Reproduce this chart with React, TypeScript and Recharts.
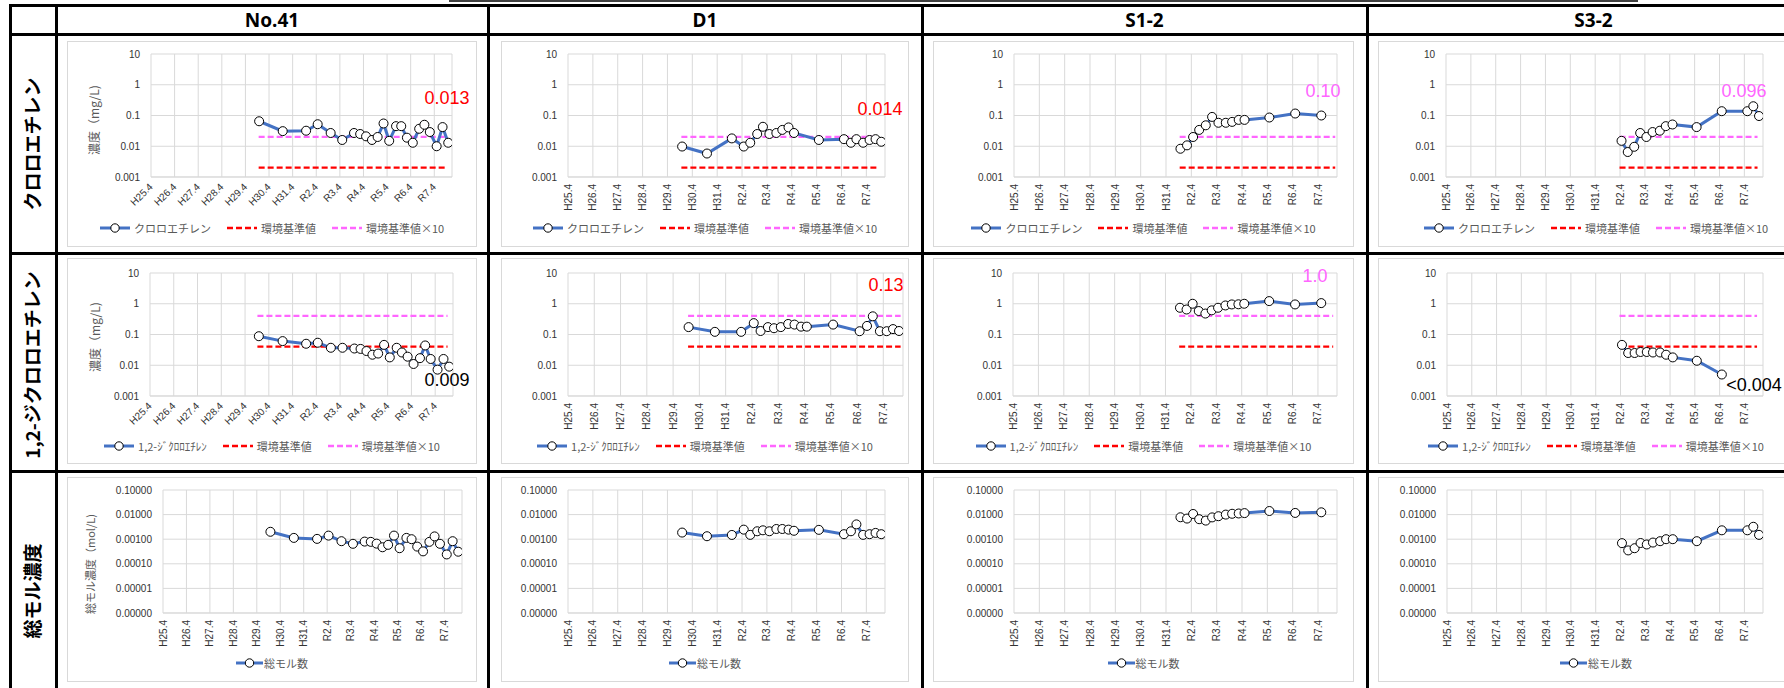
import React from 'react';
import { CartesianGrid, Line, LineChart, XAxis, YAxis } from 'recharts';

// x values are years elapsed since H25.4 (April 2013)
const X_LABELS = ['H25.4', 'H26.4', 'H27.4', 'H28.4', 'H29.4', 'H30.4', 'H31.4', 'R2.4', 'R3.4', 'R4.4', 'R5.4', 'R6.4', 'R7.4'];
const X_TICKS = X_LABELS.map((_, i) => i);
const X_MAX = 12.75;

const CONC_TICKS = [0.001, 0.01, 0.1, 1, 10];
const MOL_TICKS = [0.000001, 0.00001, 0.0001, 0.001, 0.01, 0.1];

const VC_STD = 0.002; // クロロエチレン 環境基準値 (mg/L)
const DCE_STD = 0.04; // 1,2-ジクロロエチレン 環境基準値 (mg/L)

const NO41_T = [4.58, 5.58, 6.57, 7.06, 7.61, 8.1, 8.6, 8.86, 9.11, 9.36, 9.6, 9.85, 10.09, 10.38, 10.6, 10.84, 11.09, 11.36, 11.58, 11.81, 12.1, 12.35, 12.59];
const NO41_VC = [0.065, 0.031, 0.032, 0.052, 0.027, 0.016, 0.027, 0.025, 0.021, 0.016, 0.02, 0.055, 0.015, 0.045, 0.045, 0.019, 0.013, 0.037, 0.05, 0.029, 0.01, 0.042, 0.013];
const NO41_DCE = [0.088, 0.061, 0.05, 0.054, 0.037, 0.037, 0.035, 0.034, 0.029, 0.022, 0.024, 0.046, 0.018, 0.037, 0.026, 0.019, 0.011, 0.017, 0.044, 0.016, 0.0072, 0.016, 0.009];
const NO41_MOL = [0.002, 0.00113, 0.00103, 0.0014, 0.00083, 0.00065, 0.0008, 0.00078, 0.00066, 0.00047, 0.00059, 0.0014, 0.00043, 0.00113, 0.001, 0.0005, 0.00032, 0.00078, 0.0013, 0.00065, 0.00024, 0.00083, 0.00031];

const D1_T = [4.59, 5.59, 6.59, 7.07, 7.33, 7.61, 7.84, 8.1, 8.38, 8.62, 8.87, 9.09, 10.09, 11.1, 11.38, 11.6, 11.87, 12.13, 12.37, 12.6];
const D1_VC = [0.0098, 0.0058, 0.018, 0.0098, 0.013, 0.025, 0.043, 0.025, 0.027, 0.034, 0.041, 0.027, 0.016, 0.017, 0.013, 0.017, 0.013, 0.016, 0.017, 0.014];
const D1_DCE = [0.174, 0.122, 0.122, 0.234, 0.13, 0.174, 0.16, 0.174, 0.22, 0.21, 0.18, 0.18, 0.21, 0.128, 0.19, 0.39, 0.128, 0.128, 0.15, 0.13];
const D1_MOL = [0.00186, 0.00132, 0.00149, 0.00245, 0.0015, 0.0021, 0.0023, 0.0021, 0.0026, 0.0026, 0.00245, 0.0022, 0.0024, 0.0016, 0.0021, 0.004, 0.0015, 0.0016, 0.0018, 0.0016];

const S12_T = [6.57, 6.83, 7.07, 7.31, 7.57, 7.82, 8.07, 8.36, 8.61, 8.87, 9.1, 10.08, 11.1, 12.13];
const S12_VC = [0.0083, 0.0107, 0.02, 0.034, 0.048, 0.09, 0.058, 0.058, 0.062, 0.072, 0.072, 0.086, 0.116, 0.1];
const S12_DCE = [0.74, 0.65, 1.0, 0.58, 0.48, 0.61, 0.74, 0.88, 0.95, 0.96, 1.0, 1.22, 0.95, 1.05];
const S12_MOL = [0.0078, 0.0069, 0.0106, 0.0065, 0.0057, 0.0077, 0.0086, 0.01, 0.0108, 0.0111, 0.0115, 0.014, 0.0117, 0.0124];

const S32_T = [7.06, 7.31, 7.57, 7.81, 8.06, 8.31, 8.6, 8.84, 9.11, 10.08, 11.09, 12.12, 12.36, 12.59];
const S32_VC = [0.015, 0.0065, 0.0096, 0.027, 0.02, 0.029, 0.032, 0.045, 0.051, 0.042, 0.138, 0.138, 0.2, 0.096];
const S32_DCE = [0.046, 0.025, 0.025, 0.027, 0.027, 0.026, 0.026, 0.022, 0.018, 0.014, 0.005];
const S32_MOL = [0.00069, 0.00035, 0.00043, 0.0007, 0.00061, 0.00073, 0.00083, 0.001, 0.001, 0.00083, 0.0023, 0.0023, 0.0032, 0.0015];

// span of the standard lines (from, to) per site
const VC_REF_SPAN = [[4.56, 12.56], [4.56, 12.51], [6.54, 12.68], [6.98, 12.53]];
const DCE_REF_SPAN = [[4.52, 12.52], [4.57, 12.66], [6.54, 12.6], [6.96, 12.51]];

const SITE_NAMES = ['No.41', 'D1', 'S1-2', 'S3-2'];
const SITE_T = [NO41_T, D1_T, S12_T, S32_T];
const SITE_VC = [NO41_VC, D1_VC, S12_VC, S32_VC];
const SITE_DCE = [NO41_DCE, D1_DCE, S12_DCE, S32_DCE];
const SITE_MOL = [NO41_MOL, D1_MOL, S12_MOL, S32_MOL];

const ROW_NAMES = ['クロロエチレン', '1,2-ジクロロエチレン', '総モル濃度'];
const SERIES_NAMES = ['クロロエチレン', '1,2-ｼﾞｸﾛﾛｴﾁﾚﾝ', '総モル数'];

const NOTES = [
  { text: '0.013', x: 447, y: 98, color: '#FF0000' },
  { text: '0.014', x: 880, y: 109, color: '#FF0000' },
  { text: '0.10', x: 1323, y: 91, color: '#FF66FF' },
  { text: '0.096', x: 1744, y: 91, color: '#FF66FF' },
  { text: '0.009', x: 447, y: 380, color: '#000000' },
  { text: '0.13', x: 886, y: 285, color: '#FF0000' },
  { text: '1.0', x: 1315, y: 276, color: '#FF66FF' },
  { text: '<0.004', x: 1754, y: 385, color: '#000000' },
];

const BLUE = '#4472C4';
const RED = '#FF0000';
const PINK = '#FF66FF';
const GRID = '#d9d9d9';
const TICK = '#333333';
const FONT_JP = '"Noto Sans CJK JP", "Noto Sans", sans-serif';
const FONT_NUM = '"Liberation Sans", Arial, sans-serif';

const COL_GEO = [
  { left: 56, right: 488, bx: 67, bw: 410, pl: [151, 150, 163], pr: [452, 453, 462], rot: [-45, -45, -90] },
  { left: 488, right: 922, bx: 501, bw: 408, pl: [568, 568, 568], pr: [885, 903, 885], rot: [-90, -90, -90] },
  { left: 922, right: 1367, bx: 933, bw: 421, pl: [1014, 1013, 1014], pr: [1337, 1337, 1337], rot: [-90, -90, -90] },
  { left: 1367, right: 1820, bx: 1378, bw: 436, pl: [1446, 1447, 1447], pr: [1763, 1763, 1763], rot: [-90, -90, -90] },
];
const ROW_GEO = [
  { top: 34, bottom: 253, by: 41, bh: 206, pt: 54, pb: 177, leg: 228, labelY: 144 },
  { top: 253, bottom: 471, by: 258, bh: 206, pt: 273, pb: 396, leg: 446, labelY: 365 },
  { top: 471, bottom: 711, by: 477, bh: 205, pt: 490, pb: 613, leg: 663, labelY: 591 },
];

function XTick(props: any) {
  const { x, y, payload, rot } = props;
  return (
    <text
      x={x}
      y={y}
      transform={`rotate(${rot}, ${x}, ${y})`}
      textAnchor="end"
      dominantBaseline="central"
      fontSize={10}
      fill={TICK}
      fontFamily={FONT_NUM}
    >
      {X_LABELS[payload.value]}
    </text>
  );
}

function LegendIcon({ kind, color, w }: { kind: string; color: string; w: number }) {
  return (
    <svg width={w} height={10} style={{ display: 'block' }}>
      {kind === 'main' ? (
        <>
          <line x1={0} x2={w} y1={5} y2={5} stroke={BLUE} strokeWidth={3} />
          <circle cx={w / 2} cy={5} r={4.2} fill="#fff" stroke="#000" strokeWidth={1} />
        </>
      ) : (
        <line x1={0} x2={w} y1={5} y2={5} stroke={color} strokeWidth={2.5} strokeDasharray="6 3" />
      )}
    </svg>
  );
}

function Panel({ col, row }: { col: number; row: number }) {
  const c = COL_GEO[col];
  const r = ROW_GEO[row];
  const pl = c.pl[row];
  const pr = c.pr[row];
  const rot = c.rot[row];
  const t = SITE_T[col];
  const values = row === 0 ? SITE_VC[col] : row === 1 ? SITE_DCE[col] : SITE_MOL[col];
  const data = values.map((v, i) => ({ t: t[i], v }));
  const isMol = row === 2;
  const std = row === 0 ? VC_STD : DCE_STD;
  const span = row === 0 ? VC_REF_SPAN[col] : DCE_REF_SPAN[col];
  const refs = isMol
    ? []
    : [
        { key: 'std', color: RED, data: [{ t: span[0], v: std }, { t: span[1], v: std }] },
        { key: 'std10', color: PINK, data: [{ t: span[0], v: std * 10 }, { t: span[1], v: std * 10 }] },
      ];
  const legend = isMol
    ? [{ label: SERIES_NAMES[row], kind: 'main', color: BLUE }]
    : [
        { label: SERIES_NAMES[row], kind: 'main', color: BLUE },
        { label: '環境基準値', kind: 'dash', color: RED },
        { label: '環境基準値×10', kind: 'dash', color: PINK },
      ];
  const axisH = 40;

  return (
    <>
      <div
        style={{
          position: 'absolute',
          left: c.bx,
          top: r.by,
          width: c.bw,
          height: r.bh,
          border: `1px solid ${GRID}`,
          boxSizing: 'border-box',
          background: '#fff',
        }}
      >
        <div style={{ position: 'absolute', left: -1, top: -1 }}>
          <LineChart
            width={c.bw}
            height={r.bh}
            margin={{ top: r.pt - r.by, right: c.bx + c.bw - pr, left: 0, bottom: r.by + r.bh - r.pb - axisH }}
          >
            <CartesianGrid stroke={GRID} />
            <XAxis
              type="number"
              dataKey="t"
              domain={[0, X_MAX]}
              ticks={X_TICKS}
              interval={0}
              allowDataOverflow
              height={axisH}
              tickSize={0}
              tickMargin={rot === -45 ? 8 : 7}
              axisLine={{ stroke: GRID }}
              tickLine={false}
              tick={(p: any) => <XTick {...p} rot={rot} />}
            />
            <YAxis
              type="number"
              scale="log"
              domain={isMol ? [0.000001, 0.1] : [0.001, 10]}
              ticks={isMol ? MOL_TICKS : CONC_TICKS}
              interval={0}
              allowDataOverflow
              width={pl - c.bx}
              axisLine={false}
              tickLine={false}
              tickSize={0}
              tickMargin={11}
              tickFormatter={(v: number) => (isMol ? v.toFixed(5) : String(v))}
              tick={{ fontSize: 10, fill: TICK, fontFamily: FONT_NUM }}
            />
            {refs.map((ref) => (
              <Line
                key={ref.key}
                data={ref.data}
                dataKey="v"
                stroke={ref.color}
                strokeWidth={2.25}
                strokeDasharray="6 3"
                dot={false}
                isAnimationActive={false}
              />
            ))}
            <Line
              data={data}
              dataKey="v"
              stroke={BLUE}
              strokeWidth={3}
              dot={{ r: 4.5, fill: '#fff', stroke: '#000', strokeWidth: 1 }}
              isAnimationActive={false}
            />
          </LineChart>
        </div>
      </div>
      <div
        style={{
          position: 'absolute',
          left: c.bx,
          width: c.bw,
          top: r.leg - 8,
          height: 16,
          display: 'flex',
          justifyContent: 'center',
          alignItems: 'center',
          fontFamily: FONT_JP,
          fontSize: 11,
          color: '#595959',
          whiteSpace: 'nowrap',
        }}
      >
        {legend.map((it, i) => (
          <div key={i} style={{ display: 'flex', alignItems: 'center', marginLeft: i === 0 ? 0 : 16 }}>
            <LegendIcon kind={it.kind} color={it.color} w={isMol ? 27 : 30} />
            <span style={{ marginLeft: isMol ? 1 : 4 }}>{it.label}</span>
          </div>
        ))}
      </div>
    </>
  );
}

function HLine({ y, x1, x2, w = 3 }: { y: number; x1: number; x2: number; w?: number }) {
  return <div style={{ position: 'absolute', left: x1, top: y - w / 2, width: x2 - x1, height: w, background: '#000' }} />;
}
function VLine({ x, y1, y2, w = 3 }: { x: number; y1: number; y2: number; w?: number }) {
  return <div style={{ position: 'absolute', left: x - w / 2, top: y1, width: w, height: y2 - y1, background: '#000' }} />;
}

export default function App() {
  const vx = [10, 56, 488, 922, 1367];
  const hy = [5, 34, 253, 471];
  return (
    <div
      style={{
        position: 'absolute',
        left: 0,
        top: 0,
        width: 1784,
        height: 688,
        overflow: 'hidden',
        background: '#fff',
        fontFamily: FONT_JP,
      }}
    >
      <div style={{ position: 'absolute', left: 449, top: 0, width: 1189, height: 2, background: '#404040' }} />
      {[0, 1, 2, 3].map((col) => [0, 1, 2].map((row) => <Panel key={`${col}-${row}`} col={col} row={row} />))}

      {hy.map((y) => (
        <HLine key={y} y={y} x1={8.5} x2={1784} />
      ))}
      {vx.map((x) => (
        <VLine key={x} x={x} y1={3.5} y2={688} />
      ))}

      {SITE_NAMES.map((name, i) => (
        <div
          key={name}
          style={{
            position: 'absolute',
            left: (COL_GEO[i].left + COL_GEO[i].right) / 2,
            top: 20,
            transform: 'translate(-50%, -50%)',
            fontFamily: '"Noto Sans", "Noto Sans CJK JP", sans-serif',
            fontWeight: 700,
            fontSize: 19,
            lineHeight: 1,
            whiteSpace: 'nowrap',
          }}
        >
          {name}
        </div>
      ))}

      {ROW_NAMES.map((name, i) => (
        <div
          key={name}
          style={{
            position: 'absolute',
            left: 31,
            top: ROW_GEO[i].labelY,
            transform: 'translate(-50%, -50%) rotate(-90deg)',
            fontFamily: FONT_JP,
            fontWeight: 700,
            fontSize: 19,
            lineHeight: 1,
            whiteSpace: 'nowrap',
          }}
        >
          {name}
        </div>
      ))}

      {[
        { text: '濃度（mg/L)', x: 94, y: 120, size: 12 },
        { text: '濃度（mg/L)', x: 95, y: 337, size: 12 },
        { text: '総モル濃度（mol/L)', x: 90, y: 564, size: 11 },
      ].map((l, i) => (
        <div
          key={i}
          style={{
            position: 'absolute',
            left: l.x,
            top: l.y,
            transform: 'translate(-50%, -50%) rotate(-90deg)',
            fontFamily: FONT_JP,
            fontSize: l.size,
            color: '#595959',
            lineHeight: 1,
            whiteSpace: 'nowrap',
          }}
        >
          {l.text}
        </div>
      ))}

      {NOTES.map((n) => (
        <div
          key={n.text}
          style={{
            position: 'absolute',
            left: n.x,
            top: n.y,
            transform: 'translate(-50%, -50%)',
            fontFamily: FONT_NUM,
            fontSize: 18,
            lineHeight: 1,
            color: n.color,
            whiteSpace: 'nowrap',
          }}
        >
          {n.text}
        </div>
      ))}
    </div>
  );
}
